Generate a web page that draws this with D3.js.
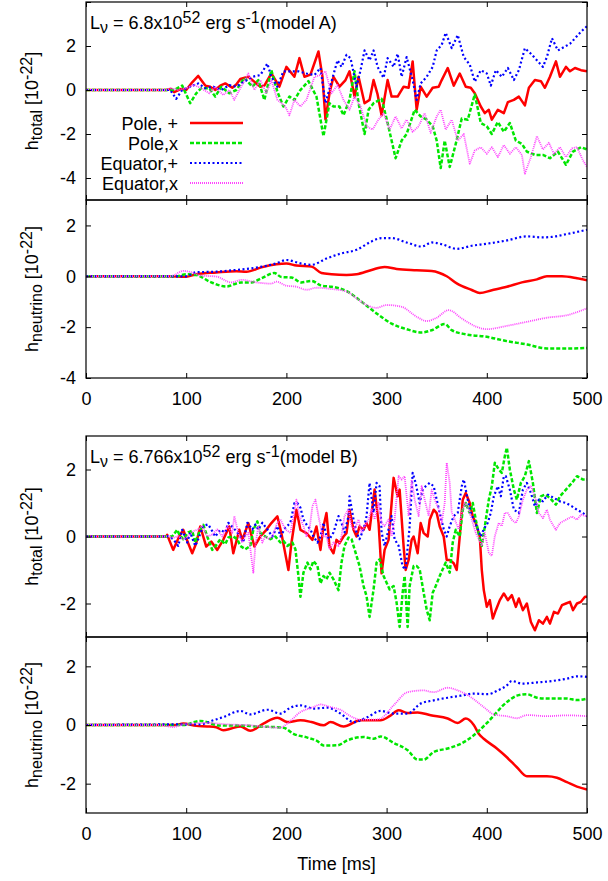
<!DOCTYPE html>
<html>
<head>
<meta charset="utf-8">
<script src="https://cdn.jsdelivr.net/npm/d3@7"></script>
<style>
  body { margin: 0; background: #fff; }
  svg { display: block; font-family: "Liberation Sans", Arial, sans-serif; }
</style>
</head>
<body>
<div id="chart"></div>
<script>
// ---- data: [time (ms), h (1e-22)] ----
const timeTicks = [0, 100, 200, 300, 400, 500];
const seriesNames = ['Pole, +', 'Pole,x', 'Equator,+', 'Equator,x'];

// model A, h_total
const aTotPoleP = [[0,0],[80,0],[85,0.05],[88,-0.1],[95,0.05],[100,0],[106,0.35],[112,0.64],[119,0.2],[124,0.15],[129,0],[134,0.2],[139,0.3],[146,0.1],[150,0.25],[154,0.5],[162,0.6],[170,0.3],[174,0.15],[178,0.2],[185,0.75],[193,0.15],[200,1.05],[208,0.6],[213,1.45],[218,0.6],[224,0.7],[232,1.75],[236,0.6],[239,-1.35],[243,-0.15],[247,0.6],[253,0.15],[259,0.45],[263,0.85],[268,-0.3],[272,0.6],[278,-0.6],[283,-0.45],[287,0.45],[291,-0.2],[295,-1.15],[301,0.45],[305,-0.3],[311,-0.3],[317,0.15],[322,0.1],[326,1.3],[330,-0.9],[334,0.15],[340,-0.3],[346,0.1],[352,0.15],[355,0.45],[361,1.0],[367,0.2],[373,0.75],[379,0.15],[384,0.1],[388,-0.15],[394,-0.75],[398,-1.05],[402,-0.9],[405,-1.35],[411,-0.9],[417,-1.05],[421,-0.55],[427,-0.45],[432,-0.3],[438,-0.7],[442,0.1],[448,0.45],[454,0.4],[458,0.1],[463,0.6],[469,1.3],[473,0.6],[479,1.05],[483,0.85],[488,1.0],[494,0.9],[500,0.85]];
const aTotPoleX = [[0,0],[80,0],[88,0],[96,0.2],[104,-0.6],[110,-0.15],[115,0.08],[123,0.08],[129,-0.3],[135,0.15],[143,-0.15],[150,0],[158,0.55],[166,0.15],[172,0.45],[178,-0.45],[185,0.9],[191,-0.08],[197,-0.75],[203,-0.3],[208,-0.45],[214,0],[222,0.4],[230,-0.3],[237,-2.1],[243,-0.6],[247,-0.75],[253,-0.75],[257,-1.15],[263,-0.45],[268,0.85],[272,-0.6],[278,-2.0],[282,-0.9],[287,-0.6],[295,-0.4],[301,-1.5],[309,-3.1],[315,-2.3],[320,-2.0],[328,-0.9],[334,-1.2],[340,-1.35],[346,-1.65],[350,-2.3],[354,-3.55],[358,-2.3],[363,-3.5],[369,-2.45],[375,-1.3],[381,-1.35],[388,-0.2],[394,-1.5],[400,-1.65],[405,-2.0],[411,-1.45],[417,-1.9],[423,-1.5],[429,-2.3],[435,-2.45],[440,-2.8],[448,-2.95],[456,-2.95],[463,-3.1],[471,-2.8],[479,-3.4],[486,-2.8],[494,-2.6],[500,-2.7]];
const aTotEqP = [[0,0],[80,0],[84,0],[90,-0.4],[96,0],[104,0.15],[112,0.3],[119,0.08],[127,0.15],[135,0],[143,0.22],[150,0.15],[158,0.38],[166,0.6],[174,0.68],[181,1.2],[185,0.6],[191,0.15],[197,0.85],[205,0.85],[212,0.85],[220,0.75],[228,0.68],[234,1.0],[239,-0.6],[245,0.38],[251,1.35],[255,1.05],[260,1.6],[264,1.45],[270,0.15],[274,0.9],[278,1.8],[283,1.35],[287,1.8],[291,1.05],[297,0.55],[301,1.45],[307,1.05],[311,1.65],[315,0.6],[320,1.5],[326,0.45],[330,-0.45],[334,0.3],[340,0.6],[346,1.05],[350,1.8],[355,2.05],[359,2.6],[365,1.9],[371,2.5],[377,1.5],[383,1.15],[388,0.38],[394,0.9],[400,0.75],[404,0.2],[409,0.9],[415,0.6],[421,1.0],[427,0.45],[432,0.9],[438,1.9],[444,1.65],[450,1.35],[456,1.05],[460,1.5],[465,2.35],[471,1.8],[477,1.95],[483,2.1],[488,2.35],[494,2.65],[500,2.9]];
const aTotEqX = [[0,0],[80,0],[84,0.08],[92,0],[100,0.08],[108,0.23],[115,0.08],[123,-0.15],[129,0.15],[137,-0.23],[143,0],[148,-0.45],[154,0.08],[162,0.75],[168,0],[174,0.45],[180,-0.15],[185,0.45],[191,-0.45],[199,-0.75],[203,-1.15],[208,-0.45],[214,-0.75],[220,-0.45],[228,0.6],[234,0.68],[239,0.85],[245,-0.15],[251,0.23],[257,-0.45],[263,-0.9],[268,-0.3],[274,-0.75],[280,-1.65],[286,-1.8],[291,-1.4],[297,-1.05],[303,-1.8],[309,-1.2],[315,-1.75],[320,-1.35],[326,-1.9],[332,-1.65],[338,-1.05],[344,-1.95],[350,-1.2],[354,-0.9],[359,-1.8],[365,-1.35],[371,-2.3],[377,-2.0],[383,-3.35],[388,-2.75],[394,-2.6],[400,-2.9],[405,-2.6],[411,-3.05],[417,-2.5],[423,-2.9],[429,-2.6],[435,-2.95],[438,-3.8],[444,-3.05],[450,-2.1],[456,-2.7],[462,-2.4],[467,-2.9],[473,-2.6],[479,-3.05],[485,-2.65],[490,-2.6],[496,-3.2],[500,-3.5]];

// model A, h_neutrino
const aNuPoleP = [[0,0],[80,0],[100,-0.02],[110,0.08],[130,0.15],[150,0.2],[160,0.18],[175,0.35],[190,0.47],[200,0.5],[210,0.42],[225,0.38],[235,0.13],[245,0.08],[260,0.05],[270,0.08],[285,0.25],[298,0.37],[310,0.29],[330,0.24],[345,0.21],[360,0],[370,-0.28],[385,-0.54],[393,-0.66],[405,-0.55],[420,-0.41],[435,-0.24],[450,-0.12],[460,0],[475,0],[490,-0.08],[500,-0.16]];
const aNuPoleX = [[0,0],[90,0],[100,0.08],[110,0.05],[125,-0.24],[140,-0.4],[155,-0.24],[165,-0.24],[175,-0.08],[188,0.13],[195,-0.03],[205,-0.05],[215,-0.24],[225,-0.18],[235,-0.37],[245,-0.41],[260,-0.58],[275,-1.0],[290,-1.46],[305,-1.86],[320,-2.08],[335,-2.21],[345,-2.12],[358,-1.88],[365,-2.12],[380,-2.29],[400,-2.38],[420,-2.55],[440,-2.68],[460,-2.84],[480,-2.84],[500,-2.82]];
const aNuEqP = [[0,0],[100,0],[110,0.16],[130,0.18],[150,0.25],[170,0.34],[190,0.51],[200,0.64],[215,0.5],[225,0.45],[240,0.7],[255,0.9],[270,1.04],[285,1.37],[295,1.5],[305,1.5],[320,1.33],[335,1.17],[345,1.33],[355,1.26],[370,1.08],[385,1.2],[400,1.28],[420,1.41],[440,1.57],[455,1.53],[465,1.55],[480,1.66],[500,1.83]];
const aNuEqX = [[0,0],[85,0.01],[97,0.21],[105,0.16],[115,0.03],[130,-0.01],[145,-0.24],[155,-0.14],[170,-0.24],[185,-0.29],[190,-0.21],[200,-0.37],[210,-0.41],[220,-0.53],[230,-0.45],[245,-0.5],[260,-0.6],[270,-0.87],[280,-1.13],[290,-1.24],[300,-1.13],[315,-1.2],[330,-1.59],[340,-1.76],[350,-1.63],[362,-1.33],[375,-1.66],[390,-1.99],[400,-2.08],[420,-1.95],[440,-1.79],[460,-1.63],[480,-1.53],[500,-1.26]];

// model B, h_total
const bTotPoleP = [[0,0],[80,0],[81,0.05],[87,-0.4],[93,0],[97,0.2],[102,-0.2],[106,-0.5],[110,-0.2],[114,0.3],[120,-0.3],[125,-0.15],[131,-0.4],[137,-0.1],[143,0.3],[147,-0.5],[153,0.2],[156,-0.1],[162,0.4],[168,-0.3],[174,0],[180,0.2],[185,0.4],[191,0.6],[195,0.1],[202,-1.0],[205,-0.2],[210,0.8],[214,0.2],[220,0.1],[226,-0.1],[230,0.3],[234,-0.4],[237,0.3],[240,0.7],[243,-0.3],[247,-0.5],[250,-0.1],[253,-0.2],[257,0],[260,0.1],[263,0.8],[267,0.2],[270,0],[273,0.3],[277,0.2],[280,0.4],[283,0.2],[288,1.4],[292,0.4],[295,-1.1],[298,-0.4],[302,-0.1],[305,1.0],[307,1.75],[311,1.2],[313,1.4],[317,-0.3],[319,-1.0],[322,-0.7],[325,-0.1],[327,0],[331,-0.5],[334,0.4],[337,0.1],[341,0],[343,0.5],[347,0.8],[350,0.7],[353,0.3],[357,0],[360,-0.7],[363,-0.7],[367,-0.8],[370,-1.0],[373,0],[376,1.1],[379,1.3],[383,1.0],[386,0.6],[389,0.4],[393,0],[395,-1.0],[397,-1.6],[400,-2.1],[403,-1.9],[406,-2.45],[409,-2.2],[413,-1.9],[417,-1.7],[421,-1.9],[425,-1.75],[429,-2.1],[432,-1.85],[436,-2.2],[440,-2.0],[444,-2.55],[448,-2.8],[452,-2.5],[456,-2.6],[460,-2.4],[463,-2.6],[467,-2.25],[471,-2.3],[475,-2.05],[479,-2.0],[483,-1.95],[486,-2.2],[490,-2.0],[494,-1.95],[498,-1.8],[500,-1.8]];
const bTotPoleX = [[0,0],[80,0],[86,0],[91,0.2],[93,0.07],[97,-0.08],[102,0.12],[106,0.17],[109,-0.18],[114,0.2],[117,0.35],[121,0],[126,-0.4],[129,-0.3],[134,-0.08],[139,-0.23],[142,-0.03],[147,0],[151,-0.08],[154,-0.28],[159,-0.38],[164,-0.28],[167,0.2],[171,0.45],[174,0.1],[179,0],[184,-0.08],[189,0],[194,-0.18],[197,-0.13],[201,-0.28],[206,-0.18],[209,-0.38],[212,-1.18],[214,-1.8],[217,-1.08],[221,-0.78],[224,-0.98],[227,-0.73],[231,-0.88],[234,-1.4],[237,-1.18],[240,-1.28],[243,-1.08],[247,-1.28],[252,-1.6],[255,-0.78],[258,-0.28],[262,-0.03],[265,-0.08],[270,-0.58],[273,-0.88],[277,-1.48],[280,-1.78],[283,-2.4],[287,-1.58],[290,-0.78],[293,-0.68],[297,-1.18],[300,-1.38],[303,-1.58],[307,-1.48],[310,-1.98],[313,-2.7],[316,-1.68],[318,-1.18],[321,-2.7],[323,-1.48],[327,-0.88],[330,-0.88],[333,-0.98],[337,-1.68],[340,-2.18],[343,-2.5],[346,-1.68],[349,-1.48],[353,-1.18],[356,-0.98],[359,-0.78],[363,-1.08],[366,-0.18],[369,0.2],[373,0],[376,0.8],[379,1.0],[383,0.7],[386,1.0],[389,0.5],[393,-0.08],[395,-0.28],[398,0.3],[402,1.1],[405,1.5],[408,2.2],[412,2.0],[415,1.9],[418,2.4],[420,2.65],[423,2.0],[427,1.4],[430,1.1],[434,1.6],[438,1.8],[442,2.25],[446,1.6],[450,0.7],[454,1.2],[458,1.25],[463,1.15],[469,0.95],[473,1.2],[479,1.4],[485,1.6],[490,1.8],[496,1.7],[500,1.7]];
const bTotEqP = [[0,0],[80,0],[82,0.01],[87,-0.08],[92,-0.28],[96,0.2],[101,-0.18],[104,0.12],[109,-0.28],[112,-0.08],[117,0.32],[122,0.36],[126,0.16],[129,0],[134,0.2],[139,0.12],[142,0.41],[147,0.26],[151,0.12],[154,0],[157,-0.18],[161,0.41],[166,0.21],[169,0.36],[172,0.21],[176,0.41],[181,0.21],[186,0],[191,0.31],[194,0],[199,0.26],[204,0.41],[208,1.0],[211,1.0],[214,0.86],[217,0.51],[221,0.31],[224,0.21],[227,0],[231,-0.18],[234,0],[237,0.41],[240,0],[243,-0.08],[247,0.12],[252,0.61],[255,0.41],[258,0.12],[262,0.61],[263,1.2],[267,0.51],[270,0.12],[273,-0.08],[277,0.22],[280,0.61],[283,1.6],[287,0.71],[290,1.6],[293,1.5],[295,0.12],[298,-0.28],[302,0.22],[305,0.61],[308,-0.08],[312,-0.28],[316,-0.9],[319,-0.98],[323,0.31],[326,1.9],[329,1.6],[333,1.0],[336,1.4],[339,1.5],[343,1.6],[347,1.5],[350,1.1],[353,0.71],[357,0.22],[360,0],[363,0.31],[367,0.61],[371,0.71],[375,1.5],[377,1.7],[381,1.1],[384,0.71],[387,0.51],[391,0.22],[394,0],[397,0.22],[401,0.41],[404,0.71],[407,1.2],[411,1.5],[414,1.2],[417,1.8],[419,1.8],[423,1.4],[427,0.8],[432,0.7],[436,1.4],[440,1.6],[444,1.3],[448,0.9],[452,1.1],[456,1.05],[461,1.25],[467,1.15],[473,1.05],[479,1.0],[485,0.9],[490,0.8],[496,0.7],[500,0.6]];
const bTotEqX = [[0,0],[80,0],[82,0.01],[87,-0.04],[92,0.01],[97,-0.08],[102,0.01],[107,0.16],[112,0.21],[116,0.31],[121,0],[126,0.06],[131,0.21],[136,0],[141,0.31],[146,0.11],[148,0.61],[152,0.11],[156,-0.18],[159,0.01],[162,0.11],[167,-1.08],[169,-0.28],[172,0.31],[176,-0.18],[179,0.01],[182,-0.08],[186,0.01],[191,0.41],[194,0.51],[199,0.21],[204,0.11],[207,0.61],[210,1.1],[213,0.61],[217,0.31],[220,0.01],[223,0.21],[226,0.91],[229,1.1],[232,0.61],[236,0.01],[240,0],[243,-0.38],[247,-0.18],[252,-0.28],[255,0.01],[258,0.61],[262,0.81],[265,0.31],[268,0.21],[272,0.51],[275,0.11],[278,0.31],[282,0.51],[285,0.81],[288,0.51],[292,1.0],[295,0.41],[298,0.31],[302,0.51],[305,0.01],[308,0.51],[312,1.8],[315,1.7],[318,1.8],[322,0.61],[325,1.7],[328,1.1],[332,0.61],[335,1.5],[338,1.1],[342,0.61],[345,1.4],[348,1.1],[352,0.81],[355,0.41],[358,1.0],[360,2.2],[363,1.6],[365,0.71],[368,0.51],[372,0.21],[375,0.71],[378,1.0],[382,0.81],[385,0.51],[389,0.11],[392,-0.08],[395,-0.28],[398,0.11],[402,-0.48],[405,-0.58],[408,0.01],[412,0.41],[415,0.31],[418,0.71],[421,0.7],[425,0.5],[429,0.4],[432,0.6],[436,1.1],[440,1.4],[444,1.5],[448,1.2],[452,0.7],[456,0.55],[460,0.8],[463,0.5],[469,0.2],[473,0.4],[479,0.5],[485,0.6],[490,0.5],[494,0.65],[500,0.6]];

// model B, h_neutrino
const bNuPoleP = [[0,0],[90,0],[97,0.05],[110,-0.03],[121,-0.05],[130,-0.08],[137,-0.18],[145,-0.12],[154,-0.05],[164,-0.2],[177,0.05],[191,0.25],[201,0.1],[214,0.16],[225,0.1],[237,-0.01],[244,0.1],[257,-0.05],[274,0.16],[294,0.16],[303,0.3],[312,0.5],[321,0.41],[331,0.43],[344,0.33],[361,0.22],[371,0.07],[379,0.22],[387,0],[392,-0.3],[397,-0.47],[410,-0.8],[420,-1.1],[430,-1.44],[440,-1.75],[450,-1.75],[460,-1.75],[470,-1.8],[480,-1.95],[490,-2.1],[500,-2.2]];
const bNuPoleX = [[0,0],[97,0],[114,0.14],[134,-0.02],[154,-0.02],[171,-0.05],[187,-0.07],[197,-0.09],[207,-0.3],[221,-0.43],[231,-0.55],[237,-0.7],[251,-0.69],[261,-0.52],[277,-0.41],[287,-0.47],[294,-0.39],[307,-0.61],[321,-0.86],[331,-1.18],[337,-1.18],[347,-0.92],[361,-0.8],[374,-0.64],[387,-0.35],[401,0.1],[420,0.78],[430,1.0],[440,1.05],[450,0.93],[460,0.9],[470,0.9],[480,0.9],[490,0.85],[500,0.9]];
const bNuEqP = [[0,0],[97,0.02],[114,0.02],[127,0.16],[137,0.27],[154,0.48],[164,0.36],[181,0.52],[194,0.39],[204,0.59],[214,0.67],[227,0.56],[241,0.59],[254,0.39],[267,0.1],[281,0.27],[294,0.48],[307,0.39],[321,0.39],[334,0.73],[347,0.84],[361,0.93],[374,1.0],[387,1.07],[401,1.05],[411,1.18],[420,1.35],[425,1.5],[435,1.41],[450,1.45],[465,1.5],[480,1.58],[490,1.66],[500,1.64]];
const bNuEqX = [[0,0],[74,0],[87,-0.07],[97,0.02],[121,0.07],[141,0.02],[164,-0.01],[181,-0.07],[194,-0.09],[201,0.05],[214,0.44],[227,0.61],[234,0.7],[244,0.61],[254,0.52],[264,0.3],[274,0.18],[287,0.18],[294,0.22],[307,0.67],[321,1.12],[337,1.18],[347,1.12],[361,1.27],[371,1.18],[384,0.95],[397,0.61],[407,0.36],[420,0.3],[430,0.23],[440,0.34],[460,0.3],[480,0.33],[500,0.3]];

// ---- styles ----
const lineStyles = [
  { color: '#ff0000', width: 2.5, dash: null },
  { color: '#00e600', width: 2.5, dash: '4,2' },
  { color: '#0000ff', width: 2.2, dash: '2,2.5' },
  { color: '#ff44ff', width: 1.8, dash: '1,1' }
];

const width = 608, height = 881;
const left = 86, right = 587;
const fontSize = 18;
const smallSize = 16;

const panels = [
  { series: [aTotPoleP, aTotPoleX, aTotEqP, aTotEqX], domain: [-5, 4], top: 2, bottom: 200,
    ticks: [-4, -2, 0, 2, 4], labels: [-4, -2, 0, 2], ylabel: 'total', curve: d3.curveLinear,
    title: ['6.8', 'A'], legend: true },
  { series: [aNuPoleP, aNuPoleX, aNuEqP, aNuEqX], domain: [-4, 3], top: 200, bottom: 378,
    ticks: [-4, -2, 0, 2], labels: [-4, -2, 0, 2], ylabel: 'neutrino', curve: d3.curveMonotoneX,
    xLabels: true },
  { series: [bTotPoleP, bTotPoleX, bTotEqP, bTotEqX], domain: [-3, 3], top: 436, bottom: 637,
    ticks: [-2, 0, 2], labels: [-2, 0, 2], ylabel: 'total', curve: d3.curveLinear,
    title: ['6.766', 'B'] },
  { series: [bNuPoleP, bNuPoleX, bNuEqP, bNuEqX], domain: [-3, 3], top: 637, bottom: 813,
    ticks: [-2, 0, 2], labels: [-2, 0, 2], ylabel: 'neutrino', curve: d3.curveMonotoneX,
    xLabels: true }
];

const svg = d3.select('#chart').append('svg')
  .attr('width', width)
  .attr('height', height);

svg.append('rect').attr('width', width).attr('height', height).attr('fill', '#fff');

const x = d3.scaleLinear().domain([0, 500]).range([left, right]);

panels.forEach((p, pi) => {
  const y = d3.scaleLinear().domain(p.domain).range([p.bottom, p.top]);
  const g = svg.append('g');

  const clipId = 'clip' + pi;
  svg.append('clipPath').attr('id', clipId)
    .append('rect')
    .attr('x', left).attr('y', p.top)
    .attr('width', right - left).attr('height', p.bottom - p.top);

  // curves
  const line = d3.line()
    .x(d => x(d[0]))
    .y(d => y(d[1]))
    .curve(p.curve);

  const lines = g.append('g').attr('clip-path', `url(#${clipId})`);
  p.series.forEach((s, i) => {
    const st = lineStyles[i];
    lines.append('path')
      .datum(s)
      .attr('fill', 'none')
      .attr('stroke', st.color)
      .attr('stroke-width', st.width)
      .attr('stroke-linejoin', 'round')
      .attr('stroke-dasharray', st.dash)
      .attr('d', line);
  });

  // inward ticks on all four sides
  const bottomAxis = d3.axisBottom(x).tickValues(timeTicks).tickSize(-5).tickPadding(14)
    .tickFormat(p.xLabels ? d3.format('d') : '');
  const topAxis = d3.axisTop(x).tickValues(timeTicks).tickSize(-5).tickFormat('');
  const leftAxis = d3.axisLeft(y).tickValues(p.ticks).tickSize(-5).tickPadding(10)
    .tickFormat(d => p.labels.includes(d) ? d : '');
  const rightAxis = d3.axisRight(y).tickValues(p.ticks).tickSize(-5).tickFormat('');

  const axes = [
    [bottomAxis, `translate(0,${p.bottom})`],
    [topAxis, `translate(0,${p.top})`],
    [leftAxis, `translate(${left},0)`],
    [rightAxis, `translate(${right},0)`]
  ];
  axes.forEach(([ax, tr]) => {
    const a = g.append('g').attr('transform', tr).call(ax);
    a.select('.domain').remove();
    a.selectAll('line').attr('stroke', '#000').attr('stroke-width', 1);
    a.selectAll('text')
      .attr('fill', '#000')
      .style('font-size', fontSize + 'px')
      .style('font-family', '"Liberation Sans", Arial, sans-serif');
  });

  // border
  g.append('rect')
    .attr('x', left).attr('y', p.top)
    .attr('width', right - left).attr('height', p.bottom - p.top)
    .attr('fill', 'none').attr('stroke', '#000').attr('stroke-width', 1.2);

  // y label
  const yl = g.append('text')
    .attr('transform', `translate(38,${(p.top + p.bottom) / 2}) rotate(-90)`)
    .attr('text-anchor', 'middle')
    .style('font-size', fontSize + 'px');
  yl.append('tspan').text('h');
  yl.append('tspan').attr('baseline-shift', '-25%').style('font-size', smallSize + 'px').text(p.ylabel);
  yl.append('tspan').text(' [10');
  yl.append('tspan').attr('baseline-shift', '40%').style('font-size', smallSize + 'px').text('-22');
  yl.append('tspan').text(']');

  // title
  if (p.title) {
    const t = g.append('text')
      .attr('x', 90)
      .attr('y', p.top + 27)
      .style('font-size', fontSize + 'px');
    t.append('tspan').text('L');
    t.append('tspan').attr('baseline-shift', '-25%').style('font-size', smallSize + 'px').text('ν');
    t.append('tspan').text(` = ${p.title[0]}x10`);
    t.append('tspan').attr('baseline-shift', '40%').style('font-size', smallSize + 'px').text('52');
    t.append('tspan').text(' erg s');
    t.append('tspan').attr('baseline-shift', '40%').style('font-size', smallSize + 'px').text('-1');
    t.append('tspan').text(`(model ${p.title[1]})`);
  }

  // legend
  if (p.legend) {
    seriesNames.forEach((name, i) => {
      const ly = 123 + i * 20;
      const st = lineStyles[i];
      g.append('text')
        .attr('x', 178).attr('y', ly + 6.5)
        .attr('text-anchor', 'end')
        .style('font-size', fontSize + 'px')
        .text(name);
      g.append('line')
        .attr('x1', 190).attr('x2', 243)
        .attr('y1', ly).attr('y2', ly)
        .attr('stroke', st.color)
        .attr('stroke-width', st.width)
        .attr('stroke-dasharray', st.dash);
    });
  }
});

// x-axis title
svg.append('text')
  .attr('x', (left + right) / 2)
  .attr('y', 870)
  .attr('text-anchor', 'middle')
  .style('font-size', fontSize + 'px')
  .text('Time [ms]');
</script>
</body>
</html>
